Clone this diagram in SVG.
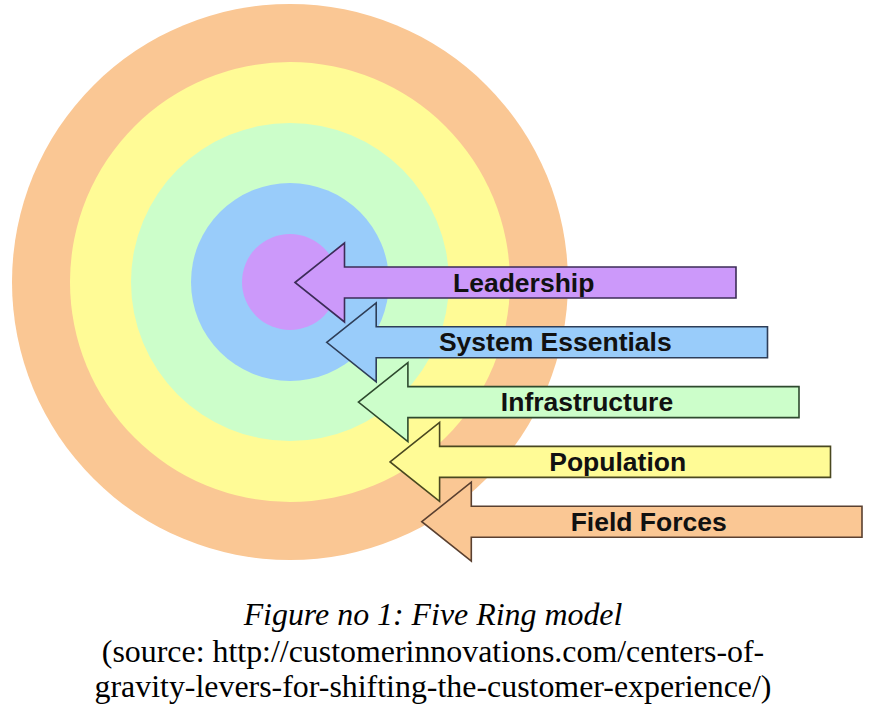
<svg xmlns="http://www.w3.org/2000/svg" width="873" height="719" viewBox="0 0 873 719">
<style>
.lbl{font-family:"Liberation Sans",Arial,sans-serif;font-weight:bold;font-size:26.5px;fill:#111;text-anchor:middle}
.cap{font-family:"Liberation Serif","Times New Roman",serif;font-size:31.9px;fill:#000;text-anchor:middle}
.arr{stroke-width:1.6;stroke-linejoin:miter}
</style>
<rect width="873" height="719" fill="#fff"/>
<g id="rings">
<circle id="ring-field" cx="290" cy="282" r="278" fill="#FAC794"/>
<circle id="ring-population" cx="290" cy="282" r="220" fill="#FFFB96"/>
<circle id="ring-infrastructure" cx="290" cy="282" r="159" fill="#CCFECA"/>
<circle id="ring-system" cx="290" cy="282" r="99" fill="#99CCFA"/>
<circle id="ring-leadership" cx="290" cy="282" r="48" fill="#CC99FA"/>
</g>
<g id="connectors">
<g id="arrow-leadership">
<polygon class="arr" fill="#CC99FA" stroke="#3C2C58" points="295,282.5 344.5,243 344.5,267 736,267 736,298 344.5,298 344.5,322"/>
<text class="lbl" x="523.7" y="291.5">Leadership</text>
</g>
<g id="arrow-system">
<polygon class="arr" fill="#99CCFA" stroke="#2E3E58" points="326.7,342.3 376.2,302.8 376.2,326.8 767.5,326.8 767.5,357.8 376.2,357.8 376.2,381.8"/>
<text class="lbl" x="555.3" y="351.3">System Essentials</text>
</g>
<g id="arrow-infrastructure">
<polygon class="arr" fill="#CCFECA" stroke="#2E4A2E" points="358.4,402.1 407.9,362.6 407.9,386.6 799,386.6 799,417.6 407.9,417.6 407.9,441.6"/>
<text class="lbl" x="587" y="411.1">Infrastructure</text>
</g>
<g id="arrow-population">
<polygon class="arr" fill="#FFFB96" stroke="#4A4820" points="390.1,461.9 439.6,422.4 439.6,446.4 830.5,446.4 830.5,477.4 439.6,477.4 439.6,501.4"/>
<text class="lbl" x="617.7" y="470.9">Population</text>
</g>
<g id="arrow-field">
<polygon class="arr" fill="#FAC794" stroke="#5A4030" points="421.8,521.7 471.3,482.2 471.3,506.2 862,506.2 862,537.2 471.3,537.2 471.3,561.2"/>
<text class="lbl" x="648.7" y="530.7">Field Forces</text>
</g>
</g>
<g id="caption">
<text class="cap" x="433" y="625" font-style="italic">Figure no 1: Five Ring model</text>
<text class="cap" x="433" y="661.5">(source: http://customerinnovations.com/centers-of-</text>
<text class="cap" x="433" y="696.5">gravity-levers-for-shifting-the-customer-experience/)</text>
</g>
</svg>
